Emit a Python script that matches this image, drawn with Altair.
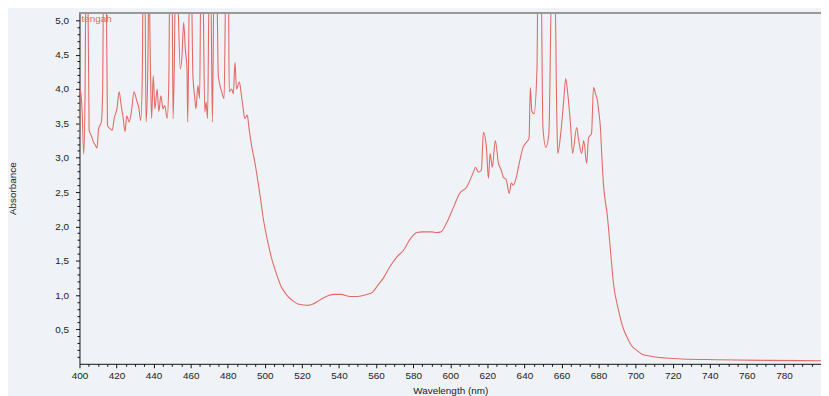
import altair as alt
import pandas as pd

wavelength = [
    400.0, 400.4, 401.4, 402.3, 403.0, 403.5, 404.5, 405.2, 406.4, 407.5, 408.6, 409.5,
    410.3, 411.8, 412.5, 413.0, 414.4, 415.1, 416.6, 417.7, 418.7, 420.2, 421.4, 422.5,
    423.6, 424.6, 425.5, 426.8, 428.2, 429.4, 430.9, 432.1, 433.0, 433.9, 434.3, 435.3,
    435.9, 436.8, 437.5, 438.2, 438.9, 439.8, 440.7, 441.9, 442.8, 443.9, 445.1, 446.0,
    447.3, 448.2, 448.7, 449.9, 450.5, 451.2, 451.8, 452.6, 454.4, 455.3, 456.2, 457.1,
    458.0, 458.4, 459.4, 460.3, 461.2, 462.1, 462.8, 463.9, 464.8, 465.5, 466.5, 467.6,
    468.3, 469.1, 470.0, 470.8, 471.7, 472.6, 474.0, 474.9, 476.7, 478.0, 479.0, 480.3,
    480.8, 482.1, 483.0, 483.9, 484.7, 486.2, 487.4, 488.3, 489.2, 490.5, 491.5, 493.0,
    494.5, 496.4, 497.7, 499.0, 501.7, 503.5, 505.5, 507.0, 508.7, 510.5, 512.4, 515.0,
    517.8, 520.0, 523.0, 526.0, 528.5, 531.0, 534.0, 537.6, 541.0, 546.0, 550.0, 555.0,
    558.0, 560.6, 564.0, 567.6, 571.0, 575.0, 578.0, 582.0, 585.0, 587.4, 590.0, 592.7,
    595.0, 598.0, 601.8, 605.0, 608.8, 612.5,
    613.6, 615.2, 616.8, 617.9, 619.5, 620.6, 621.5, 622.7, 624.3, 626.0, 627.5, 628.6,
    630.2, 631.8, 632.9, 634.0, 635.5, 637.0, 639.3, 641.0, 642.5, 643.2, 644.0, 645.2,
    646.8, 647.3, 649.0, 650.0, 651.6, 653.2, 654.8, 656.4, 657.5, 658.0, 659.6, 661.2,
    662.3, 663.4, 665.0, 666.0, 668.2, 669.3, 670.9, 672.0, 673.6, 674.6, 676.2, 677.3,
    678.4, 679.4, 680.0, 681.0, 682.0, 682.6, 684.8, 686.4, 688.0, 690.7, 693.4, 695.5,
    698.2, 700.5, 703.5, 706.0, 710.5, 716.0, 725.0, 744.0, 770.0, 801.0,
]
absorbance = [
    3.35, 4.00, 3.70, 3.05, 3.90, 5.60, 5.60, 3.40, 3.32, 3.23, 3.18, 3.14,
    3.42, 3.52, 3.96, 5.60, 5.60, 3.47, 3.42, 3.40, 3.57, 3.71, 3.96, 3.76,
    3.57, 3.38, 3.61, 3.52, 3.71, 3.96, 3.83, 3.71, 3.54, 4.19, 5.60, 5.60,
    3.52, 4.19, 5.60, 4.43, 3.57, 4.19, 3.71, 4.00, 3.67, 3.90, 3.71, 3.76,
    3.57, 4.10, 5.60, 5.60, 3.57, 4.43, 5.60, 5.60, 4.29, 4.48, 4.97, 4.58,
    4.29, 3.52, 5.60, 5.60, 4.19, 3.90, 3.71, 4.05, 3.86, 5.60, 5.60, 3.67,
    3.81, 3.57, 5.60, 5.60, 3.52, 5.60, 5.60, 4.19, 3.96, 3.86, 5.60, 5.60,
    3.96, 4.00, 3.93, 4.39, 4.00, 4.10, 3.90, 3.71, 3.57, 3.62, 3.42, 3.15,
    2.95, 2.63, 2.40, 2.14, 1.76, 1.55, 1.37, 1.25, 1.13, 1.05, 0.98, 0.92,
    0.87, 0.86, 0.85, 0.87, 0.91, 0.95, 0.99, 1.01, 1.01, 0.98, 0.98, 1.01,
    1.04, 1.13, 1.25, 1.42, 1.55, 1.66, 1.80, 1.91, 1.92, 1.92, 1.92, 1.91,
    1.92, 2.05, 2.28, 2.48, 2.57, 2.79,
    2.86, 2.79, 2.82, 3.37, 3.15, 2.70, 3.06, 2.86, 3.25, 2.92, 2.82, 2.72,
    2.68, 2.48, 2.63, 2.60, 2.70, 2.89, 3.15, 3.22, 3.28, 4.02, 3.68, 3.64,
    4.30, 5.60, 5.60, 3.44, 3.15, 3.35, 5.60, 5.60, 3.58, 3.06, 3.35, 3.83,
    4.15, 3.93, 3.44, 3.06, 3.44, 3.25, 3.06, 3.25, 2.92, 3.29, 3.35, 4.02,
    3.93, 3.83, 3.70, 3.44, 2.90, 2.63, 2.14, 1.66, 1.18, 0.79, 0.51, 0.38,
    0.25, 0.20, 0.14, 0.12, 0.10, 0.085, 0.07, 0.06, 0.05, 0.045,
]
series_name = "tengah"

x_ticks = [400 + 5 * i for i in range(81)]
y_ticks = [round(0.1 * i, 1) for i in range(1, 51)]

df = pd.DataFrame({"wl": wavelength, "abs": absorbance})

RED = "#e36b66"
FONT = "Liberation Sans"

x_axis = alt.Axis(
    values=x_ticks,
    labelExpr="(datum.value % 20 === 0 && datum.value < 790) ? datum.label : ''",
    format="d",
    tickSize={"condition": {"test": "datum.value % 20 === 0", "value": 4}, "value": 2.5},
    grid=False, domainColor="#111", tickColor="#111", labelColor="#222",
    labelFontSize=10, labelFont=FONT, labelPadding=3, labelFlush=False,
    title="Wavelength (nm)", titleFont=FONT, titleFontSize=10, titleFontWeight="normal",
    titleColor="#222", titleY=27, titleBaseline="middle",
)
y_axis = alt.Axis(
    values=y_ticks,
    labelExpr="(round(datum.value * 10) % 5 === 0) ? replace(format(datum.value, '.1f'), '.', ',') : ''",
    tickSize={"condition": {"test": "round(datum.value * 10) % 5 === 0", "value": 4}, "value": 2.5},
    grid=False, domainColor="#111", tickColor="#111", labelColor="#222",
    labelFontSize=10, labelFont=FONT, labelPadding=7, labelFlush=False,
    title="Absorbance", titleFont=FONT, titleFontSize=10, titleFontWeight="normal",
    titleColor="#222", titleX=-67, titleY=176, titleAngle=-90,
    titleAlign="center", titleBaseline="middle",
)

line = alt.Chart(df).mark_line(color=RED, strokeWidth=1.1, clip=True, interpolate="monotone").encode(
    x=alt.X("wl:Q", scale=alt.Scale(domain=[400, 800], nice=False, zero=False), axis=x_axis),
    y=alt.Y("abs:Q", scale=alt.Scale(domain=[0, 5.1], nice=False), axis=y_axis),
)

top_line = alt.Chart(df).mark_rule(color="#9a9a9a", strokeWidth=1).encode(y=alt.value(0))

label = alt.Chart(pd.DataFrame({"t": [series_name]})).mark_text(
    color=RED, fontSize=10, font=FONT, align="left", baseline="middle"
).encode(x=alt.value(2), y=alt.value(6), text="t:N")

chart = alt.layer(line, top_line, label).properties(
    width=747, height=353,
    autosize=alt.AutoSizeParams(type="none"),
    padding={"left": 72, "top": 4, "right": 0, "bottom": 31},
    background="#eff2f6",
).configure_view(stroke=None)

chart.save("out.html", embed_options={"renderer": "svg", "actions": False})
